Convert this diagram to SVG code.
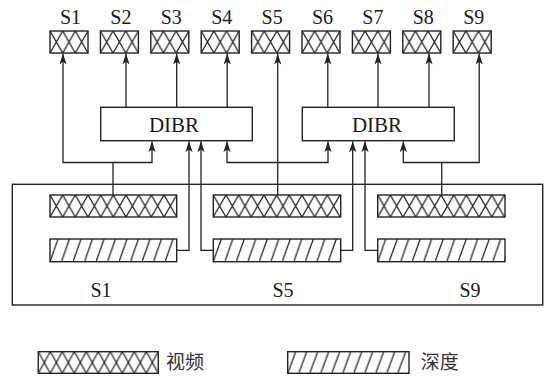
<svg xmlns="http://www.w3.org/2000/svg" width="548" height="378" viewBox="0 0 548 378">
<style>
.box{fill:none;stroke:#222;stroke-width:1.4}
.vid{fill:url(#xh);stroke:#222;stroke-width:1.4}
.dep{fill:url(#sl);stroke:#222;stroke-width:1.4}
.lbl{font-size:20px;fill:#1a1a1a;text-anchor:middle}
.dibr{font-size:21px;fill:#1a1a1a;text-anchor:middle}
.cn{font-size:19px;fill:#333}
.arr{fill:none;stroke:#222;stroke-width:1.3;marker-end:url(#ah)}
</style>
<defs>
<pattern id="xh" patternUnits="userSpaceOnUse" width="12.67" height="22">
<path d="M0,0 L12.67,22 M12.67,0 L0,22" stroke="#222" stroke-width="1.25" fill="none"/>
</pattern>
<pattern id="xh2" patternUnits="userSpaceOnUse" width="12" height="21.6">
<path d="M0,0 L12,21.6 M12,0 L0,21.6" stroke="#222" stroke-width="1.25" fill="none"/>
</pattern>
<pattern id="sl" patternUnits="userSpaceOnUse" width="11.5" height="22.7">
<path d="M0,22.7 L8,0" stroke="#222" stroke-width="1.25" fill="none"/>
</pattern>
<pattern id="sl2" patternUnits="userSpaceOnUse" width="11" height="21.6">
<path d="M0,21.6 L8,0" stroke="#222" stroke-width="1.25" fill="none"/>
</pattern>
<marker id="ah" markerUnits="userSpaceOnUse" markerWidth="12" markerHeight="10" refX="11" refY="5" orient="auto" viewBox="0 0 12 10">
<path d="M11,5 L0,1.4 L2.8,5 L0,8.6 Z" fill="#222"/>
</marker>
</defs>
<rect width="548" height="378" fill="#fff"/>

<g font-family="'Liberation Serif', 'Times New Roman', 'DejaVu Serif', serif">
<g id="view-s1" transform="translate(50,31)"><rect class="vid" width="38" height="22"/><text class="lbl" x="20.5" y="-7.5">S1</text></g>
<g id="view-s2" transform="translate(100.4,31)"><rect class="vid" width="38" height="22"/><text class="lbl" x="20.5" y="-7.5">S2</text></g>
<g id="view-s3" transform="translate(150.8,31)"><rect class="vid" width="38" height="22"/><text class="lbl" x="20.5" y="-7.5">S3</text></g>
<g id="view-s4" transform="translate(201.2,31)"><rect class="vid" width="38" height="22"/><text class="lbl" x="20.5" y="-7.5">S4</text></g>
<g id="view-s5" transform="translate(251.6,31)"><rect class="vid" width="38" height="22"/><text class="lbl" x="20.5" y="-7.5">S5</text></g>
<g id="view-s6" transform="translate(302,31)"><rect class="vid" width="38" height="22"/><text class="lbl" x="20.5" y="-7.5">S6</text></g>
<g id="view-s7" transform="translate(352.4,31)"><rect class="vid" width="38" height="22"/><text class="lbl" x="20.5" y="-7.5">S7</text></g>
<g id="view-s8" transform="translate(402.8,31)"><rect class="vid" width="38" height="22"/><text class="lbl" x="20.5" y="-7.5">S8</text></g>
<g id="view-s9" transform="translate(453.2,31)"><rect class="vid" width="38" height="22"/><text class="lbl" x="20.5" y="-7.5">S9</text></g>

<g id="dibr-left"><rect class="box" x="100.7" y="107.3" width="151.6" height="33.4"/><text class="dibr" x="174" y="132">DIBR</text></g>
<g id="dibr-right"><rect class="box" x="302.3" y="107.3" width="152" height="33.4"/><text class="dibr" x="377" y="132">DIBR</text></g>

<g id="source">
<rect class="box" x="12.3" y="184.3" width="530.4" height="120.7"/>
<text class="lbl" x="101" y="297">S1</text>
<text class="lbl" x="283" y="297">S5</text>
<text class="lbl" x="470" y="297">S9</text>
</g>
</g>
<g id="src-s1-video" transform="translate(50,195)"><rect class="vid" width="126.7" height="22"/></g>
<g id="src-s1-depth" transform="translate(50,239)"><rect class="dep" width="126.7" height="22.7"/></g>
<g id="src-s5-video" transform="translate(213.3,195)"><rect class="vid" width="127.4" height="22"/></g>
<g id="src-s5-depth" transform="translate(213.3,239)"><rect class="dep" width="127.4" height="22.7"/></g>
<g id="src-s9-video" transform="translate(377.7,195)"><rect class="vid" width="127.3" height="22"/></g>
<g id="src-s9-depth" transform="translate(377.7,239)"><rect class="dep" width="127.3" height="22.7"/></g>

<g id="connectors">
<path class="arr" d="M113,195 V162.5 H63 V53.5"/>
<path class="arr" d="M113,162.5 H152 V141.2"/>
<path class="arr" d="M126,107.3 V53.5"/>
<path class="arr" d="M176.7,107.3 V53.5"/>
<path class="arr" d="M227.2,107.3 V53.5"/>
<path class="arr" d="M176.7,250.3 H189 V141.2"/>
<path class="arr" d="M213.3,250.3 H201 V141.2"/>
<path class="arr" d="M277.7,195 V53.5"/>
<path class="arr" d="M277.7,162.5 H227 V141.2"/>
<path class="arr" d="M277.7,162.5 H328 V141.2"/>
<path class="arr" d="M327.8,107.3 V53.5"/>
<path class="arr" d="M378,107.3 V53.5"/>
<path class="arr" d="M429,107.3 V53.5"/>
<path class="arr" d="M340.7,250.3 H352.7 V141.2"/>
<path class="arr" d="M377.7,250.3 H365 V141.2"/>
<path class="arr" d="M441.7,195 V162.5 H479.2 V53.5"/>
<path class="arr" d="M441.7,162.5 H403.3 V141.2"/>
</g>

<g font-family="'Noto Sans CJK SC', 'Noto Sans', sans-serif">
<g id="legend-video" transform="translate(38.3,351.7)"><rect class="box" width="120" height="21.6" style="fill:url(#xh2)"/><text class="cn" x="127.7" y="17.5">视频</text></g>
<g id="legend-depth" transform="translate(287.7,351.7)"><rect class="box" width="121.3" height="21.6" style="fill:url(#sl2)"/><text class="cn" x="133" y="17.5">深度</text></g>
</g>
</svg>
